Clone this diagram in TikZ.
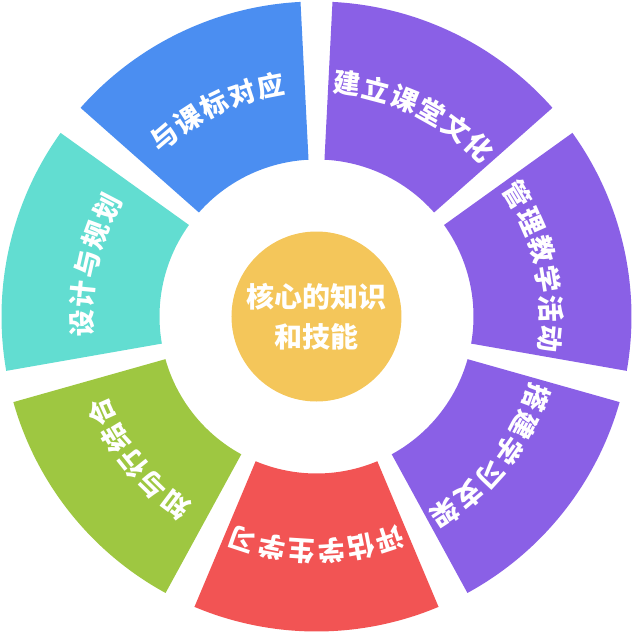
\documentclass[tikz,border=0pt]{standalone}
\usepackage{fontspec}
\newfontfamily\cjk{Noto Sans CJK SC}
\definecolor{cblue}{HTML}{4B8EF1}
\definecolor{cpurple}{HTML}{8A60E6}
\definecolor{cred}{HTML}{F25454}
\definecolor{cgreen}{HTML}{9EC741}
\definecolor{cteal}{HTML}{62DDD1}
\definecolor{cyellow}{HTML}{F4C65A}
\tikzset{
  ringch/.style={text=white, inner sep=0pt, font=\cjk\bfseries\fontsize{27}{27}\selectfont},
  hub/.style={circle, fill=cyellow, minimum size=170pt, inner sep=0pt, text=white, align=center,
              font=\cjk\bfseries\fontsize{28}{40}\selectfont}
}
\newcommand\segm[3]{% center angle, colour, name
  \fill[#2] ({#1-22.8}:315) arc[start angle={#1-22.8}, end angle={#1+22.8}, radius=315]
    -- ({#1+22.8}:157) arc[start angle={#1+22.8}, end angle={#1-22.8}, radius=157] -- cycle;
}
\newcommand\ringtext[4]{% center angle, count, chars, name
  \foreach \ch [count=\k from 0] in {#3} {
    \pgfmathsetmacro\ang{#1+(#2-1)/2*7.3-\k*7.3}
    \node[ringch, rotate=\ang-90] (#4-\k) at (\ang:235) {\ch};
  }
}
\begin{document}
\begin{tikzpicture}[x=1pt,y=1pt]
\useasboundingbox (-316.5,-316.5) rectangle (316.5,316.5);
\segm{64.29}{cpurple}{s1}
\segm{12.86}{cpurple}{s2}
\segm{-38.57}{cpurple}{s3}
\segm{-90}{cred}{s4}
\segm{-141.43}{cgreen}{s5}
\segm{167.14}{cteal}{s6}
\segm{115.71}{cblue}{s7}
\ringtext{64.29}{6}{建,立,课,堂,文,化}{ta}
\ringtext{12.86}{6}{管,理,教,学,活,动}{tb}
\ringtext{-38.57}{6}{搭,建,学,习,支,架}{tc}
\ringtext{-90}{6}{评,估,学,生,学,习}{td}
\ringtext{-141.43}{5}{知,与,行,结,合}{te}
\ringtext{167.14}{5}{设,计,与,规,划}{tf}
\ringtext{115.71}{5}{与,课,标,对,应}{tg}
\node[hub] (hub) at (0,0) {核心的知识\\和技能};
\end{tikzpicture}
\end{document}
